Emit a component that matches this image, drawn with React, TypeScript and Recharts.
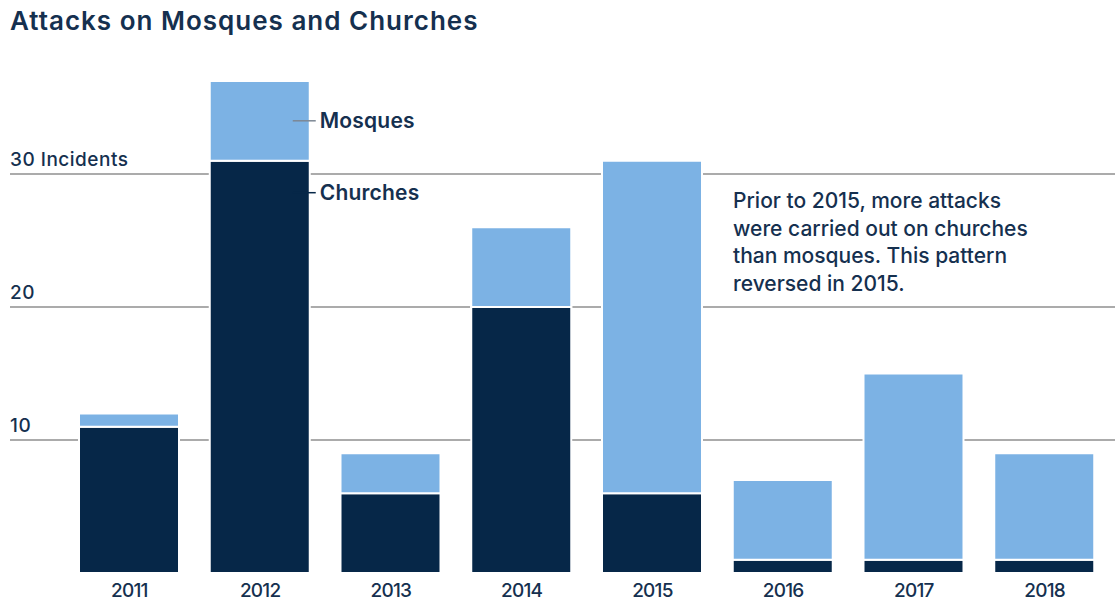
import React from 'react';
import { BarChart, Bar, XAxis, YAxis, CartesianGrid, LabelList } from 'recharts';

const years = ['2011', '2012', '2013', '2014', '2015', '2016', '2017', '2018'];
const churches = [11, 31, 6, 20, 6, 1, 1, 1];
const mosques = [1, 6, 3, 6, 25, 6, 14, 8];
const yTicks = [10, 20, 30];
const yTickLabels = ['10', '20', '30 Incidents'];
const title = 'Attacks on Mosques and Churches';
const noteLines = [
  'Prior to 2015, more attacks',
  'were carried out on churches',
  'than mosques. This pattern',
  'reversed in 2015.',
];

const data = years.map((y, i) => ({ year: y, churches: churches[i], mosques: mosques[i] }));

const NAVY = '#062748';
const LIGHT = '#7cb2e4';
const TEXT = '#15304f';
const FONT = 'Inter, "Noto Sans", sans-serif';

const YTick = (props: any) => {
  const { y, payload } = props;
  const idx = yTicks.indexOf(payload.value);
  return (
    <text x={10} y={Number(y) - 8} fontSize={19} fill={TEXT} fontFamily={FONT} fontWeight={500} textAnchor="start" letterSpacing={0.5}>
      {idx >= 0 ? yTickLabels[idx] : String(payload.value)}
    </text>
  );
};

const XTick = (props: any) => {
  const { x, payload } = props;
  return (
    <text x={x} y={597} textAnchor="middle" fontSize={19} fill={TEXT} fontFamily={FONT} fontWeight={500} letterSpacing={-0.8}>
      {payload.value}
    </text>
  );
};

const makeLabel = (name: string, lineColor: string, mode: 'mid' | 'top') => (props: any) => {
  const { x, y, width, height, index } = props;
  if (index !== 1) return null;
  const r = Number(x) + Number(width);
  const cy = mode === 'mid' ? Number(y) + Number(height) / 2 : Number(y) + 32;
  return (
    <g>
      <line x1={r - 17} x2={r + 6} y1={cy} y2={cy} stroke={lineColor} strokeWidth={1.5} />
      <text x={r + 10} y={cy} dy="0.35em" fontSize={21} fill={TEXT} fontFamily={FONT} fontWeight={600} letterSpacing={0.2}>
        {name}
      </text>
    </g>
  );
};

export default function App() {
  return (
    <div style={{ position: 'absolute', left: 0, top: 0, width: 1115, height: 604, background: '#fff' }}>
      <div
        style={{
          position: 'absolute',
          left: 10,
          top: 5,
          fontFamily: FONT,
          fontSize: 26,
          fontWeight: 600,
          color: TEXT,
          letterSpacing: 1.0,
          whiteSpace: 'nowrap',
        }}
      >
        {title}
      </div>
      <BarChart
        width={1115}
        height={604}
        data={data}
        margin={{ top: 41, right: 0, bottom: 0, left: 9 }}
      >
        <CartesianGrid vertical={false} stroke="#8f8f8f" strokeWidth={1.5} syncWithTicks horizontalValues={yTicks} />
        <YAxis
          width={1}
          domain={[0, 40]}
          ticks={yTicks}
          axisLine={false}
          tickLine={false}
          tick={YTick}
          interval={0}
          allowDataOverflow
        />
        <XAxis
          dataKey="year"
          height={31}
          padding={{ left: 54, right: 5 }}
          axisLine={false}
          tickLine={false}
          tick={XTick}
          interval={0}
        />
        <Bar dataKey="churches" stackId="a" fill={NAVY} stroke="#fff" strokeWidth={2} barSize={100} isAnimationActive={false}>
          <LabelList dataKey="churches" content={makeLabel('Churches', NAVY, 'top')} />
        </Bar>
        <Bar dataKey="mosques" stackId="a" fill={LIGHT} stroke="#fff" strokeWidth={2} barSize={100} isAnimationActive={false}>
          <LabelList dataKey="mosques" content={makeLabel('Mosques', '#7d8794', 'mid')} />
        </Bar>
      </BarChart>
      <div
        style={{
          position: 'absolute',
          left: 733,
          top: 187,
          fontFamily: FONT,
          fontSize: 21,
          fontWeight: 500,
          lineHeight: '27.5px',
          color: TEXT,
          letterSpacing: 0,
          whiteSpace: 'nowrap',
        }}
      >
        {noteLines.map((l) => (
          <div key={l}>{l}</div>
        ))}
      </div>
    </div>
  );
}
